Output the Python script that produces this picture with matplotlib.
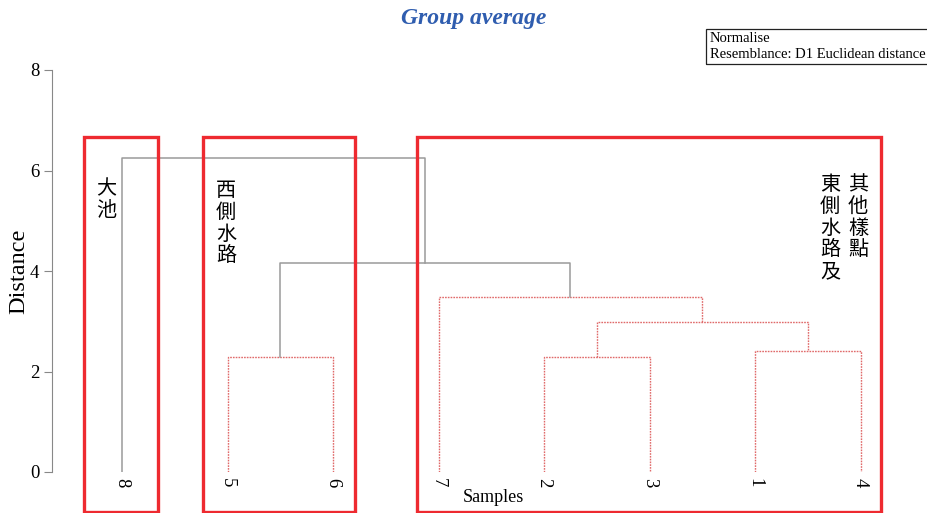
import matplotlib
matplotlib.use("Agg")
import matplotlib.pyplot as plt
from matplotlib.patches import Rectangle

W, H = 927, 513

# leaves in plotted order, merges in linkage style (nodes 0-7 are leaves, 8+ are clusters)
leaf_labels = ["8", "5", "6", "7", "2", "3", "1", "4"]
link_left = [1, 4, 6, 9, 3, 8, 0]
link_right = [2, 5, 7, 10, 11, 12, 13]
link_height = [2.29, 2.29, 2.41, 2.98, 3.48, 4.16, 6.25]
link_group = ["in", "in", "in", "in", "in", "out", "out"]

y_ticks = [0, 2, 4, 6, 8]

group_names = ["大池", "西側水路", "東側水路及", "其他樣點"]

SERIF = "Liberation Serif"
CJK = ["Noto Sans CJK TC", "DejaVu Sans"]
GREY = "#9a9a9a"
RED_LINE = "#e06a6a"
RED_BOX = "#ee2a30"


def fx(px):
    return px / W


def fy(py):
    return 1 - py / H


fig = plt.figure(figsize=(W / 100, H / 100), dpi=100)
ax = fig.add_axes([fx(52), fy(472), fx(900) - fx(52), fy(70) - fy(472)])
ax.set_xlim(-0.664, 7.374)
ax.set_ylim(0, 8)

# dendrogram
node_x = {i: float(i) for i in range(len(leaf_labels))}
node_y = {i: 0.0 for i in range(len(leaf_labels))}
for k, (a, b, h, g) in enumerate(zip(link_left, link_right, link_height, link_group)):
    xa, xb = node_x[a], node_x[b]
    ya, yb = node_y[a], node_y[b]
    if g == "in":
        style = dict(color=RED_LINE, lw=1.0, ls=(0, (1.2, 0.8)))
    else:
        style = dict(color=GREY, lw=1.1, ls="-")
    ax.plot([xa, xa, xb, xb], [ya, h, h, yb], **style)
    node = len(leaf_labels) + k
    node_x[node] = (xa + xb) / 2
    node_y[node] = h

for i, lab in enumerate(leaf_labels):
    ax.text(i, -0.12, lab, rotation=-90, ha="center", va="top",
            fontsize=13.5, family=SERIF, clip_on=False)

for s in ["top", "right", "bottom"]:
    ax.spines[s].set_visible(False)
ax.spines["left"].set_color("#888888")
ax.set_xticks([])
ax.set_yticks(y_ticks)
ax.tick_params(axis="y", length=6, color="#888888", labelsize=13.5, pad=3)
for t in ax.get_yticklabels():
    t.set_family(SERIF)

fig.text(fx(19), fy(271), "Distance", rotation=90, ha="center", va="center",
         fontsize=17.5, family=SERIF)
fig.text(fx(493), fy(497), "Samples", ha="center", va="center", fontsize=13, family=SERIF)
fig.text(fx(474), fy(19), "Group average", ha="center", va="center", fontsize=17,
         family=SERIF, style="italic", weight="bold", color="#2f5daf")

# legend box top right
fig.add_artist(Rectangle((fx(706), fy(64)), fx(240), fy(29) - fy(64), transform=fig.transFigure,
                         fill=False, ec="#222222", lw=0.9))
fig.text(fx(710), fy(38), "Normalise", ha="left", va="center", fontsize=10.5, family=SERIF)
fig.text(fx(710), fy(55), "Resemblance: D1 Euclidean distance", ha="left", va="center",
         fontsize=10.5, family=SERIF)

# red group boxes
boxes = [(84, 137, 158, 512), (203, 137, 355, 512), (417, 137, 881, 512)]
for x0, y0, x1, y1 in boxes:
    fig.add_artist(Rectangle((fx(x0), fy(y1)), fx(x1) - fx(x0), fy(y0) - fy(y1),
                             transform=fig.transFigure, fill=False, ec=RED_BOX, lw=2.4))

label_pos = [(106, 178), (226, 180), (830, 174), (858, 174)]
for name, (px, py) in zip(group_names, label_pos):
    fig.text(fx(px), fy(py), "\n".join(name), ha="center", va="top", fontsize=14.5,
             family=CJK, linespacing=1.05)

fig.savefig("out.png", dpi=100)
